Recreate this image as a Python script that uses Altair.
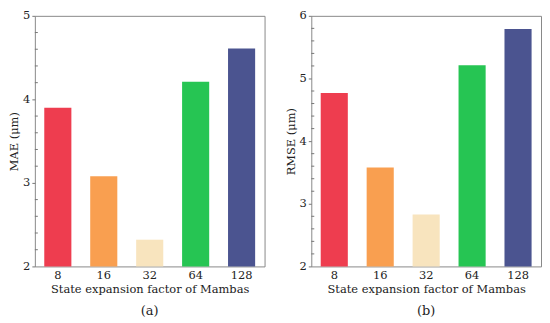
import altair as alt
import pandas as pd

factors = ["8", "16", "32", "64", "128"]
mae = [3.90, 3.08, 2.32, 4.21, 4.61]
rmse = [4.77, 3.58, 2.83, 5.21, 5.79]
colors = ["#EE3D4F", "#F99F50", "#F8E4BE", "#26C553", "#4B5490"]

mae_major = [2, 3, 4, 5]
rmse_major = [2, 3, 4, 5, 6]

FONT = "DejaVu Serif"
W, H = 231, 252


def panel(vals, ylabel, major, tag):
    lo, hi = major[0], major[-1]
    df = pd.DataFrame({"k": factors, "v": vals})
    minors = [round(lo + i * 0.2, 1) for i in range(int((hi - lo) / 0.2) + 1)]
    minors = [m for m in minors if abs(m - round(m)) > 1e-6]
    mdf = pd.DataFrame({"m": minors})
    yscale = alt.Scale(domain=[lo, hi], nice=False, zero=False)
    bars = alt.Chart(df).mark_bar().encode(
        x=alt.X("k:N", sort=factors, title="State expansion factor of Mambas",
                scale=alt.Scale(paddingInner=0.41, paddingOuter=0.205),
                axis=alt.Axis(labelAngle=0, ticks=False, domain=False, labelPadding=3,
                              titlePadding=3)),
        y=alt.Y("v:Q", scale=yscale, title=ylabel,
                axis=alt.Axis(values=major, format="d", tickSize=3, domain=False,
                              tickColor="#777777", labelPadding=2, titlePadding=3,
                              grid=False)),
        y2=alt.datum(lo),
        color=alt.Color("k:N", sort=factors, scale=alt.Scale(domain=factors, range=colors),
                        legend=None),
    )
    ticks = alt.Chart(mdf).mark_rule(color="#777777", strokeWidth=1).encode(
        y=alt.Y("m:Q", scale=yscale),
        x=alt.value(0),
        x2=alt.value(3),
    )
    return alt.layer(bars, ticks).properties(
        width=W, height=H,
        title=alt.TitleParams(tag, orient="bottom", font=FONT, fontSize=13,
                              fontWeight="normal", offset=10, color="#222222"),
    )


chart = alt.hconcat(
    panel(mae, "MAE (μm)", mae_major, "(a)"),
    panel(rmse, "RMSE (μm)", rmse_major, "(b)"),
    spacing=47, bounds="flush",
).properties(padding={"left": 0, "top": 0, "right": 0, "bottom": 0}).configure_view(
    stroke="#888888", strokeWidth=1
).configure_axis(
    labelFont=FONT, titleFont=FONT, labelFontSize=11.5, titleFontSize=11.5,
    labelColor="#222222", titleColor="#222222", titleFontWeight="normal",
)

chart.save("out.html", embed_options={"renderer": "svg", "actions": False})
